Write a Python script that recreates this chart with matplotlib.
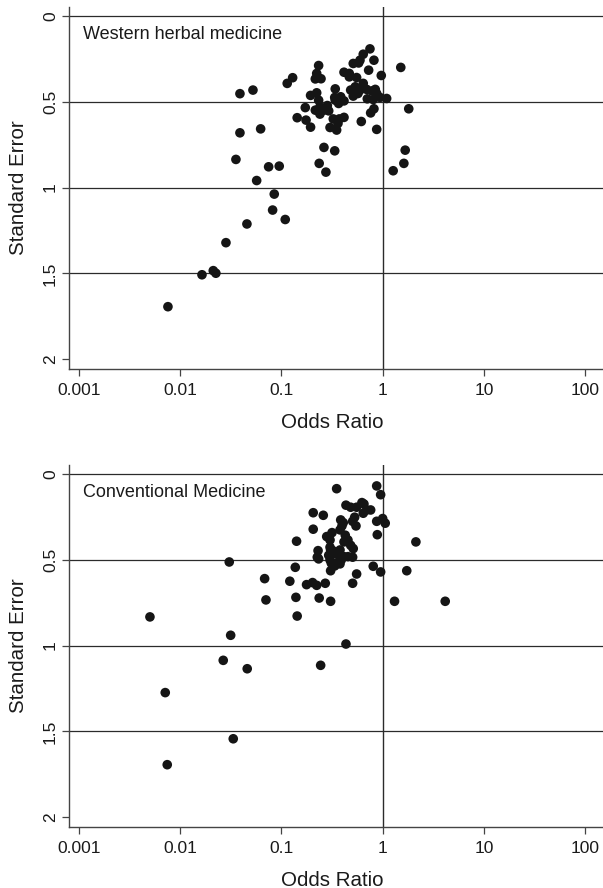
import numpy as np
import matplotlib
matplotlib.use("Agg")
import matplotlib.pyplot as plt

plt.rcParams['font.family'] = ['Liberation Sans', 'DejaVu Sans']

# funnel plot data (odds ratio, standard error)
herbal_or = [0.0389, 0.0523, 0.114, 0.129, 0.233, 0.223, 0.216, 0.246, 0.340, 0.0389,
             0.0623, 0.0355, 0.0747, 0.0951, 0.0569, 0.0849, 0.0818, 0.109, 0.143, 0.175,
             0.194, 0.172, 0.263, 0.336, 0.236, 0.275, 0.0456, 0.0283, 0.0164, 0.0212,
             0.0225, 0.00756, 0.415, 0.468, 0.468, 0.512, 0.579, 0.643, 0.749, 0.820,
             0.727, 0.969, 0.553, 0.336, 0.194, 0.223, 0.233, 0.240, 0.263, 0.284,
             0.293, 0.216, 0.240, 0.325, 0.373, 0.415, 0.302, 0.351, 0.362, 0.340,
             0.385, 0.415, 0.367, 0.483, 0.536, 0.597, 0.695, 0.512, 0.570, 0.784,
             0.873, 0.940, 0.807, 0.705, 1.095, 0.820, 0.761, 0.615, 0.873, 1.51,
             1.81, 1.67, 1.62, 1.27, 0.643, 0.845, 0.597]
herbal_se = [0.453, 0.432, 0.393, 0.360, 0.289, 0.335, 0.367, 0.366, 0.425, 0.681,
             0.658, 0.836, 0.879, 0.875, 0.959, 1.038, 1.131, 1.186, 0.593, 0.607,
             0.648, 0.534, 0.766, 0.786, 0.859, 0.910, 1.212, 1.321, 1.508, 1.484,
             1.499, 1.694, 0.328, 0.335, 0.355, 0.277, 0.274, 0.223, 0.192, 0.258,
             0.316, 0.347, 0.359, 0.475, 0.463, 0.448, 0.491, 0.530, 0.549, 0.522,
             0.553, 0.549, 0.572, 0.600, 0.600, 0.591, 0.650, 0.665, 0.626, 0.491,
             0.471, 0.495, 0.510, 0.432, 0.413, 0.432, 0.428, 0.467, 0.452, 0.437,
             0.452, 0.475, 0.487, 0.483, 0.481, 0.541, 0.565, 0.615, 0.661, 0.300,
             0.541, 0.782, 0.859, 0.902, 0.393, 0.428, 0.258]

conv_or = [0.351, 0.206, 0.259, 0.206, 0.141, 0.230, 0.226, 0.233, 0.280, 0.306,
           0.302, 0.306, 0.0305, 0.137, 0.0682, 0.121, 0.177, 0.203, 0.223, 0.271,
           0.0703, 0.139, 0.236, 0.306, 0.143, 0.00502, 0.0315, 0.0266, 0.0459, 0.244,
           0.434, 0.00711, 0.0334, 0.00744, 0.873, 0.955, 0.434, 0.483, 0.553, 0.624,
           0.653, 0.695, 0.761, 0.643, 0.529, 0.505, 0.385, 0.408, 0.396, 0.379,
           0.545, 0.873, 1.00, 1.06, 0.885, 0.316, 0.302, 0.427, 0.454, 0.483,
           0.512, 0.415, 0.302, 0.321, 0.293, 0.346, 0.379, 0.311, 0.336, 0.356,
           0.390, 0.415, 0.454, 0.505, 0.379, 0.807, 0.955, 0.553, 0.505, 1.31,
           2.13, 1.73, 4.15]
conv_se = [0.086, 0.226, 0.241, 0.322, 0.392, 0.447, 0.485, 0.495, 0.365, 0.443,
           0.501, 0.564, 0.513, 0.544, 0.610, 0.625, 0.645, 0.633, 0.649, 0.637,
           0.734, 0.719, 0.723, 0.742, 0.828, 0.833, 0.940, 1.086, 1.135, 1.115,
           0.991, 1.274, 1.543, 1.694, 0.070, 0.121, 0.182, 0.194, 0.194, 0.167,
           0.175, 0.210, 0.210, 0.229, 0.252, 0.276, 0.268, 0.284, 0.303, 0.326,
           0.303, 0.276, 0.260, 0.287, 0.354, 0.342, 0.385, 0.357, 0.385, 0.416,
           0.435, 0.396, 0.427, 0.447, 0.474, 0.466, 0.443, 0.520, 0.536, 0.517,
           0.501, 0.482, 0.482, 0.485, 0.524, 0.538, 0.571, 0.583, 0.637, 0.742,
           0.396, 0.564, 0.742]

x_ticks = [0.001, 0.01, 0.1, 1, 10, 100]
x_labels = ['0.001', '0.01', '0.1', '1', '10', '100']
y_ticks = [0, 0.5, 1, 1.5, 2]
y_labels = ['0', '0.5', '1', '1.5', '2']
ref_lines = [0, 0.5, 1, 1.5]

panels = [("Western herbal medicine", herbal_or, herbal_se, 7),
          ("Conventional Medicine", conv_or, conv_se, 465)]

W, H = 603, 888
fig = plt.figure(figsize=(W/100, H/100), dpi=100)

for title, ors, ses, top_px in panels:
    bottom_px = top_px + 362
    ax = fig.add_axes([69/W, 1 - bottom_px/H, (W-69)/W, 362/H])
    ax.set_xscale('log')
    ax.set_xlim(10**-3.099, 10**2.177)
    ax.set_ylim(2.057, -0.052)

    for v in ref_lines:
        ax.axhline(v, color='#2b2b2b', lw=0.9, zorder=1)
    ax.axvline(1, color='#2b2b2b', lw=1.0, zorder=1)

    ax.scatter(ors, ses, s=48, color='#151515', edgecolors='none', zorder=3)

    ax.set_xticks(x_ticks)
    ax.set_xticklabels(x_labels)
    ax.xaxis.set_minor_locator(matplotlib.ticker.NullLocator())
    ax.set_yticks(y_ticks)
    ax.set_yticklabels(y_labels, rotation=90, va='center')
    ax.tick_params(axis='both', direction='out', length=5, width=0.9,
                   color='#444444', labelsize=12.5, labelcolor='#1a1a1a')
    ax.tick_params(axis='x', pad=5)
    ax.tick_params(axis='y', pad=3)

    for side in ['top', 'right']:
        ax.spines[side].set_visible(False)
    for side in ['left', 'bottom']:
        ax.spines[side].set_color('#444444')
        ax.spines[side].set_linewidth(1.0)

    ax.text(0.026, 0.925, title, transform=ax.transAxes, fontsize=13,
            ha='left', va='center', color='#1a1a1a')

    fig.text(18.5/W, 1 - (top_px + 181)/H, 'Standard Error', rotation=90,
             ha='center', va='center', fontsize=14.8, color='#1a1a1a')
    fig.text(332/W, 1 - (bottom_px + 53)/H, 'Odds Ratio',
             ha='center', va='center', fontsize=14.8, color='#1a1a1a')

fig.savefig('out.png', dpi=100)
